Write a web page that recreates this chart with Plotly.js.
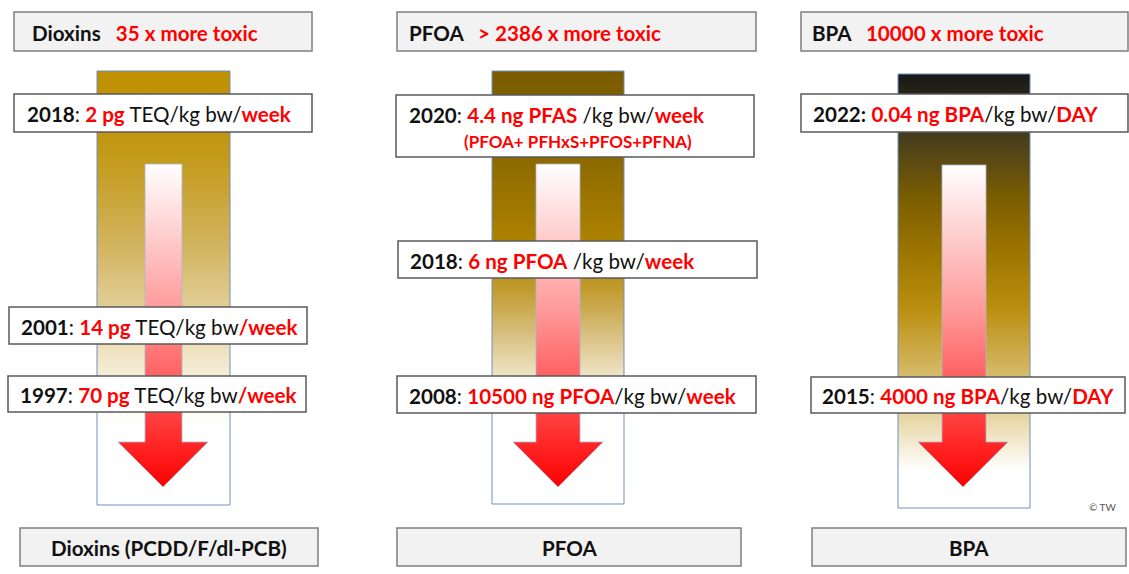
<!DOCTYPE html>
<html>
<head>
<meta charset="utf-8">
<script src="https://cdn.plot.ly/plotly-3.0.1.min.js"></script>
<style>html,body{margin:0;padding:0;background:#fff;}#chart{width:1129px;height:574px;}</style>
</head>
<body>
<div id="chart"></div>
<script>
// ---------------- DATA ----------------
const compounds = ['Dioxins', 'PFOA', 'BPA'];
const toxicityFactors = ['35 x more toxic', '> 2386 x more toxic', '10000 x more toxic'];
const bottomLabels = ['Dioxins (PCDD/F/dl-PCB)', 'PFOA', 'BPA'];
const years = [['2018', '2001', '1997'], ['2020', '2018', '2008'], ['2022:', '2015']];
const doses = [['2 pg', '14 pg', '70 pg'], ['4.4 ng PFAS', '6 ng PFOA', '10500 ng PFOA'], ['0.04 ng BPA', '4000 ng BPA']];
const unitTexts = [[' TEQ/kg bw/', ' TEQ/kg bw', ' TEQ/kg bw'], [' /kg bw/', ' /kg bw/', '/kg bw/'], ['/kg bw/', '/kg bw/']];
const periods = [['week', '/week', '/week'], ['week', 'week', 'week'], ['DAY', 'DAY']];
const subNotes = [['', '', ''], ['(PFOA+ PFHxS+PFOS+PFNA)', '', ''], ['', '']];
const credit = '© TW';

// ---------------- LAYOUT GEOMETRY (pixel space) ----------------
const panels = [
  { header: [14, 12, 312, 51], headerTextX: 30, column: [97, 71, 230, 505],
    shaft: [145, 182], head: [118, 208], shaftTop: 164, headTop: 442, tip: 487,
    boxes: [[14, 94, 312, 132], [9, 307, 307, 344], [8, 376, 306, 412]], textX: [25, 19, 18],
    bottom: [20, 528, 318, 566],
    colStops: [[71, '#bf9000'], [150, '#c29815'], [240, '#d0b25a'], [320, '#e6d4a2'], [380, '#f6efdc'], [425, '#ffffff'], [505, '#ffffff']] },
  { header: [397, 12, 756, 51], headerTextX: 407, column: [492, 71, 624, 504],
    shaft: [536, 580], head: [513, 603], shaftTop: 164, headTop: 442, tip: 487,
    boxes: [[396, 95, 754, 157], [398, 241, 757, 278], [397, 376, 756, 413]], textX: [407, 408, 407],
    bottom: [397, 528, 741, 566],
    colStops: [[71, '#7a5c00'], [160, '#8c6a00'], [240, '#ad8200'], [290, '#c29b30'], [335, '#d8c080'], [375, '#eee3c4'], [415, '#ffffff'], [504, '#ffffff']] },
  { header: [801, 12, 1128, 51], headerTextX: 810, column: [898, 74, 1030, 508],
    shaft: [942, 986], head: [918, 1008], shaftTop: 165, headTop: 442, tip: 487,
    boxes: [[801, 94, 1128, 132], [811, 377, 1125, 413]], textX: [811, 820],
    bottom: [812, 528, 1126, 566],
    colStops: [[74, '#181818'], [140, '#4a3f1c'], [200, '#7c5e00'], [260, '#a17900'], [310, '#bb8f10'], [360, '#cfb055'], [420, '#e8d8a8'], [470, '#ffffff'], [508, '#ffffff']] }
];

const RED = '#ff0000';
const FONT = 'Lato, sans-serif';
const traces = [];
const shapes = [];
const annotations = [];

function rectShape(b, fill, line, w) {
  return { type: 'rect', xref: 'x', yref: 'y', x0: b[0], y0: b[1], x1: b[2], y1: b[3],
    fillcolor: fill, line: { color: line, width: w }, layer: 'above' };
}
function red(s) { return '<span style="color:' + RED + '">' + s + '</span>'; }

panels.forEach((p, i) => {
  // gradient column
  const c = p.column;
  const span = c[3] - c[1];
  const cs = p.colStops.map(s => [(s[0] - c[1]) / span, s[1]]);
  traces.push({
    type: 'scatter', mode: 'lines', hoverinfo: 'skip',
    x: [c[0], c[2], c[2], c[0], c[0]], y: [c[1], c[1], c[3], c[3], c[1]],
    fill: 'toself', line: { color: '#6f8fc0', width: 1 },
    fillgradient: { type: 'vertical', colorscale: cs, start: c[1], stop: c[3] }
  });
  // arrow
  const sx = p.shaft, hx = p.head, tipX = (hx[0] + hx[1]) / 2;
  traces.push({
    type: 'scatter', mode: 'lines', hoverinfo: 'skip',
    x: [sx[0], sx[1], sx[1], hx[1], tipX, hx[0], sx[0], sx[0]],
    y: [p.shaftTop, p.shaftTop, p.headTop, p.headTop, p.tip, p.headTop, p.headTop, p.shaftTop],
    fill: 'toself', line: { color: '#a9b8d0', width: 0.8 },
    fillgradient: { type: 'vertical', colorscale: [[0, '#ffffff'], [0.45, '#ff9a9a'], [0.8, '#ff3a3a'], [1, '#ff0000']], start: p.shaftTop, stop: p.tip }
  });
  // header
  shapes.push(rectShape(p.header, '#f2f2f2', '#7f7f7f', 1.5));
  annotations.push({ x: p.headerTextX, y: (p.header[1] + p.header[3]) / 2 + 1, xanchor: 'left', yanchor: 'middle',
    text: '<b>' + compounds[i] + '\u00a0\u00a0\u00a0' + red(toxicityFactors[i]) + '</b>' });
  // bottom label
  shapes.push(rectShape(p.bottom, '#f2f2f2', '#7f7f7f', 1.5));
  annotations.push({ x: (p.bottom[0] + p.bottom[2]) / 2, y: (p.bottom[1] + p.bottom[3]) / 2 + 1, xanchor: 'center', yanchor: 'middle',
    text: '<b>' + bottomLabels[i] + '</b>' });
  // dose boxes
  p.boxes.forEach((b, j) => {
    shapes.push(rectShape(b, '#ffffff', '#595959', 1.5));
    const hasNote = subNotes[i][j] !== '';
    const yMain = hasNote ? b[1] + 20 : (b[1] + b[3]) / 2 + 1;
    const yr = years[i][j];
    const yearTxt = yr.endsWith(':') ? '<b>' + yr + '</b> ' : '<b>' + yr + '</b>: ';
    annotations.push({ x: p.textX[j], y: yMain, xanchor: 'left', yanchor: 'middle',
      text: yearTxt + '<b>' + red(doses[i][j]) + '</b>' + unitTexts[i][j] + '<b>' + red(periods[i][j]) + '</b>' });
    if (hasNote) {
      annotations.push({ x: 462, y: b[1] + 46, xanchor: 'left', yanchor: 'middle',
        text: '<b>' + red(subNotes[i][j]) + '</b>', font: { size: 17, color: RED, family: FONT } });
    }
  });
});

annotations.push({ x: 1102, y: 507, xanchor: 'center', yanchor: 'middle', text: credit,
  font: { size: 10, color: '#555', family: FONT } });

annotations.forEach(a => {
  a.xref = 'x'; a.yref = 'y'; a.showarrow = false;
  if (!a.font) a.font = { size: 20.6, color: '#111', family: FONT };
});

const layout = {
  width: 1129, height: 574,
  margin: { l: 0, r: 0, t: 0, b: 0, pad: 0 },
  paper_bgcolor: '#ffffff', plot_bgcolor: '#ffffff',
  showlegend: false,
  xaxis: { range: [0, 1129], visible: false, fixedrange: true },
  yaxis: { range: [574, 0], visible: false, fixedrange: true },
  shapes: shapes,
  annotations: annotations
};

Plotly.newPlot('chart', traces, layout, { staticPlot: true, displayModeBar: false });
</script>
</body>
</html>
